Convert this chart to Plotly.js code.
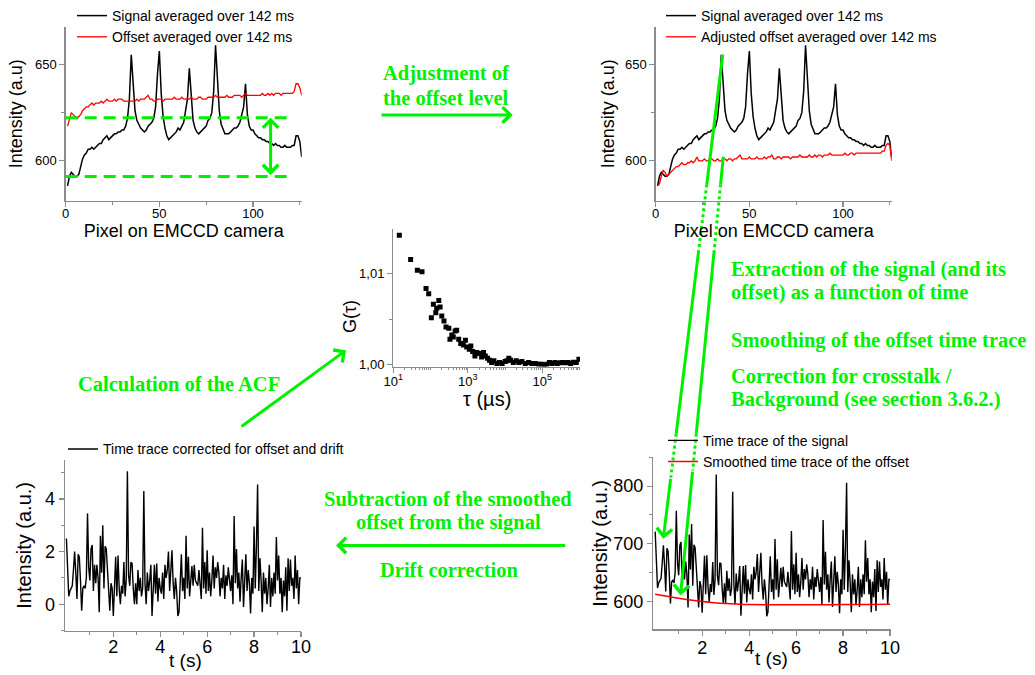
<!DOCTYPE html>
<html><head><meta charset="utf-8">
<script src="https://cdn.plot.ly/plotly-3.0.1.min.js"></script>
<style>html,body{margin:0;padding:0;background:#fff}#chart{width:1035px;height:675px}</style>
</head><body><div id="chart"></div>
<script>
// ---------- DATA ----------
// Spectrum along the EMCCD pixels (averaged over 142 ms)
const signal = [587,592,594,593,592,592,593,597,601,603,
604,606,606,607,606,607,608,609,609,611,
612,613,611,612,613,614,614,615,615,616,
616,618,622,632,655,640,626,621,619,617,
616,615,616,618,619,620,622,628,645,657,
635,623,617,613,611,612,613,614,615,617,
616,618,620,626,632,648,632,621,617,615,
614,615,616,617,618,621,622,625,636,660,
643,626,619,616,614,614,614,615,616,617,
617,618,620,624,628,640,624,618,616,616,
614,613,612,612,611,611,610,610,609,609,
608,609,608,608,607,607,608,607,607,607,
608,608,613,613,610,602];
const offset = [618,622,625,624,623,622,623,624,626,627,
628,628,629,630,629,630,630,630,631,630,
631,632,631,631,631,632,631,632,632,632,
631,631,631,631,631,631,631,632,631,632,
632,632,633,634,632,632,631,631,632,632,
632,631,632,632,632,632,632,633,632,632,
632,633,632,632,632,632,633,632,632,632,
633,633,632,632,632,633,633,633,633,634,
633,633,633,633,633,634,633,633,633,634,
634,634,634,633,634,635,634,634,634,634,
634,634,634,634,635,634,634,635,634,635,
634,635,635,635,634,635,635,635,635,635,
635,636,640,640,638,634];
const adjustedOffset = [587,588,592,595,594,592,593,594,595,596,
597,597,598,599,598,598,599,599,600,599,
600,602,600,600,600,601,600,600,601,601,
600,600,601,600,600,601,601,600,601,601,
600,601,601,602,603,601,601,601,601,602,
601,601,601,602,601,601,601,602,601,602,
602,603,601,601,602,602,601,602,602,602,
602,601,602,602,602,602,603,602,602,602,
602,603,602,602,603,602,603,603,602,603,
603,603,604,603,603,603,603,603,603,603,
604,603,603,604,604,603,604,604,604,604,
604,604,604,604,604,604,604,604,604,604,
605,605,608,609,608,600];
const pixel = signal.map((_, i) => i + 1);
const offsetLevels = [622.4, 591.9];

// Autocorrelation function
const tau = [14.5,29.2,44.2,58.9,75.5,89.1,105,119,138,146,166,180,200,229,260,309,331,372,407,457,501,569,646,759,861,933,1096,1202,1349,1549,1738,2042,2344,2630,2951,3388,3802,4365,5012,6026,7079,8318,10000,11220,12589,14125,16596,19953,23442,28184,34674,42658,52481,64565,79433,95499,112202,131826,154882,181970,218776,251189,301995,354813,416869,489779,575440,691831,812831,954993];
const acf = [1.01418,1.01153,1.01036,1.01018,1.00836,1.00778,1.00516,1.00662,1.00571,1.00618,1.00705,1.00633,1.00535,1.0048,1.00415,1.004,1.0028,1.00327,1.00305,1.00371,1.00378,1.0028,1.00233,1.00218,1.00269,1.00196,1.00171,1.00207,1.00145,1.00098,1.00135,1.00124,1.00087,1.00135,1.00098,1.00073,1.00051,1.00025,1.00044,1.00015,1.00025,1.00015,1.00036,1.00044,1.00073,1.00051,1.00025,1.00044,1.00025,1.00036,1.00015,1.00025,1.00015,1.00015,1.00007,1.00007,1.0,1.00007,1.00025,1.00015,1.00025,1.00015,1.00022,1.00025,1.00022,1.00025,1.00015,1.00029,1.00025,1.00062];
const tauTicks = [10, 1000, 100000];
const tauTickText = ['10<sup>1</sup>', '10<sup>3</sup>', '10<sup>5</sup>'];

// Time traces (sampled every 0.05 s)
const signalTrace = [721,651,623,632,636,640,666,697,662,617,
692,687,647,596,633,637,632,650,757,667,
645,697,703,626,670,638,669,647,589,716,
655,734,627,698,693,654,622,589,635,626,
580,622,679,612,680,625,599,630,616,668,
611,638,820,645,628,667,665,623,597,631,
596,653,618,640,609,622,790,630,595,648,
617,635,661,575,626,661,613,663,598,638,
620,612,647,603,660,638,651,682,616,664,
684,629,603,638,616,574,581,629,678,616,
638,603,708,620,673,607,638,658,625,660,
634,629,625,651,616,603,722,620,664,612,
684,616,647,607,634,675,620,656,638,664,
647,607,638,620,660,603,642,625,656,629,
616,642,594,741,629,686,620,647,598,638,
669,590,634,678,616,651,629,579,638,612,
724,620,691,806,616,671,634,581,647,612,
638,594,620,660,590,638,607,647,612,706,
634,675,612,638,581,634,607,656,583,671,
616,669,625,638,603,675,620,651,594,638,
638];
const correctedTrace = [2.5,0.9,0.3,0.5,0.6,0.7,1.3,2.0,1.2,0.2,
1.9,1.8,0.9,-0.25,0.6,0.7,0.6,1.0,3.45,1.4,
0.9,2.1,2.25,0.5,1.5,0.8,1.5,1.0,-0.3,2.6,
1.2,3.0,0.6,2.2,2.1,1.2,0.5,-0.25,0.8,0.6,
-0.45,0.5,1.8,0.3,1.85,0.6,0.0,0.7,0.4,1.6,
0.3,0.9,5.05,1.1,0.7,1.6,1.55,0.6,0.0,0.8,
0.0,1.3,0.5,1.0,0.3,0.6,4.3,0.8,0.0,1.2,
0.5,0.9,1.5,-0.45,0.7,1.5,0.4,1.55,0.1,1.0,
0.6,0.4,1.2,0.2,1.5,1.0,1.3,2.0,0.5,1.6,
2.05,0.8,0.2,1.0,0.5,-0.45,-0.3,0.8,1.9,0.5,
1.0,0.2,2.6,0.6,1.8,0.3,1.0,1.45,0.7,1.5,
0.9,0.8,0.7,1.3,0.5,0.2,2.9,0.6,1.6,0.4,
2.05,0.5,1.2,0.3,0.9,1.85,0.6,1.4,1.0,1.6,
1.2,0.3,1.0,0.6,1.5,0.2,1.1,0.7,1.4,0.8,
0.5,1.1,0.0,3.35,0.8,2.1,0.6,1.2,0.1,1.0,
1.7,-0.1,0.9,1.9,0.5,1.3,0.8,-0.35,1.0,0.4,
2.95,0.6,2.2,4.55,0.5,1.75,0.9,-0.3,1.2,0.4,
1.0,0.0,0.6,1.5,-0.1,1.0,0.3,1.2,0.4,2.55,
0.9,1.85,0.4,1.0,-0.3,0.9,0.3,1.4,-0.25,1.75,
0.5,1.7,0.7,1.0,0.2,1.85,0.6,1.3,0.0,1.0,
1.0];
const time = signalTrace.map((_, i) => +(i * 0.05).toFixed(2));
const offsetTime = [0,0.5,1,1.5,2,2.5,3,3.5,4,5,6,7,8,9,10];
const smoothedOffset = [612,608.5,605,602,599.5,597.5,596,595,594.3,594,594,594,594.2,594.5,594.8];
const timeTicks = [2,4,6,8,10];
const timeMinor = [1,3,5,7,9];

// ---------- LAYOUT HELPERS ----------
const W = 1035, H = 675;
const px = x => x / W, py = y => 1 - y / H;
const GREEN = '#00f000';
const SANS = 'Liberation Sans, Arial, sans-serif';
const SERIF = 'Liberation Serif, Times New Roman, serif';
const AX = '#8c8c8c';
const base = {showgrid:false, zeroline:false, showline:true, linecolor:AX, linewidth:1.3,
  ticks:'outside', ticklen:5, tickwidth:1.2, tickcolor:AX, tickfont:{size:13, color:'#000'}, automargin:false, fixedrange:true};
const minor = (o) => Object.assign({ticks:'outside', ticklen:3, tickwidth:1, tickcolor:AX, showgrid:false}, o);

const traces = [
  {x:pixel, y:signal, type:'scatter', mode:'lines', line:{color:'#000', width:1.5}, name:'Signal averaged over 142 ms', xaxis:'x', yaxis:'y', legend:'legend'},
  {x:pixel, y:offset, type:'scatter', mode:'lines', line:{color:'#ff0000', width:1.3}, name:'Offset averaged over 142 ms', xaxis:'x', yaxis:'y', legend:'legend'},
  {x:pixel, y:signal, type:'scatter', mode:'lines', line:{color:'#000', width:1.5}, name:'Signal averaged over 142 ms', xaxis:'x2', yaxis:'y2', legend:'legend2'},
  {x:pixel, y:adjustedOffset, type:'scatter', mode:'lines', line:{color:'#ff0000', width:1.3}, name:'Adjusted offset averaged over 142 ms', xaxis:'x2', yaxis:'y2', legend:'legend2'},
  {x:tau, y:acf, type:'scatter', mode:'markers', marker:{symbol:'square', size:5, color:'#000'}, showlegend:false, xaxis:'x3', yaxis:'y3'},
  {x:time, y:signalTrace, type:'scatter', mode:'lines', line:{color:'#000', width:1.4}, name:'Time trace of the signal', xaxis:'x4', yaxis:'y4', legend:'legend3'},
  {x:offsetTime, y:smoothedOffset, type:'scatter', mode:'lines', line:{color:'#ff0000', width:1.5, shape:'spline'}, name:'Smoothed time trace of the offset', xaxis:'x4', yaxis:'y4', legend:'legend3'},
  {x:time, y:correctedTrace, type:'scatter', mode:'lines', line:{color:'#000', width:1.4}, name:'Time trace corrected for offset and drift', xaxis:'x5', yaxis:'y5', legend:'legend4'}
];

const legendBase = {xanchor:'left', yanchor:'top', bgcolor:'rgba(0,0,0,0)', borderwidth:0, font:{size:14, color:'#000'}};

const gfont = {family:SERIF, size:20.5, color:GREEN};
const gtxt = (text, x, y, anchor) => ({text:'<b>'+text+'</b>', xref:'paper', yref:'paper', x:px(x), y:py(y),
  xanchor:anchor || 'center', yanchor:'middle', showarrow:false, font:gfont});
const axTitle = (text, x, y, size, angle) => ({text:text, xref:'paper', yref:'paper', x:px(x), y:py(y),
  xanchor:'center', yanchor:'middle', showarrow:false, textangle:angle || 0, font:{family:SANS, size:size, color:'#000'}});
const garrow = (hx, hy, tx, ty, extra) => Object.assign({text:'', xref:'paper', yref:'paper', x:px(hx), y:py(hy),
  axref:'pixel', ayref:'pixel', ax:tx-hx, ay:ty-hy, showarrow:true, arrowhead:4, arrowsize:1, arrowwidth:3, arrowcolor:GREEN, standoff:0, startstandoff:0}, extra || {});
const seg = (x0, y0, x1, y1, dash) => ({type:'line', xref:'paper', yref:'paper', x0:px(x0), y0:py(y0), x1:px(x1), y1:py(y1),
  line:{color:GREEN, width:3, dash:dash || 'solid'}});

const layout = {
  width:W, height:H, margin:{l:0, r:0, t:0, b:0}, paper_bgcolor:'#fff', plot_bgcolor:'rgba(0,0,0,0)',
  font:{family:SANS, color:'#000'}, separators:',.', showlegend:true,
  xaxis:Object.assign({}, base, {domain:[px(65.7), px(301.7)], range:[0,126], anchor:'y', tick0:0, dtick:50, minor:minor({dtick:25}), ticklabelstandoff:-5,
    title:{text:'Pixel on EMCCD camera', font:{size:18}, standoff:0}}),
  yaxis:Object.assign({}, base, {domain:[py(199.3), py(25)], range:[579.3,669.5], anchor:'x', tick0:0, dtick:50, minor:minor({dtick:25}),
    title:{text:'Intensity (a.u)', font:{size:18}, standoff:7}}),
  xaxis2:Object.assign({}, base, {domain:[px(655.7), px(891.7)], range:[0,126], anchor:'y2', tick0:0, dtick:50, minor:minor({dtick:25}), ticklabelstandoff:-5,
    title:{text:'Pixel on EMCCD camera', font:{size:18}, standoff:0}}),
  yaxis2:Object.assign({}, base, {domain:[py(199.3), py(25)], range:[579.3,669.5], anchor:'x2', tick0:0, dtick:50, minor:minor({dtick:25}),
    title:{text:'Intensity (a.u)', font:{size:18}, standoff:5}}),
  xaxis3:Object.assign({}, base, {type:'log', domain:[px(393.3), px(580)], range:[1,6.01], anchor:'y3', tickmode:'array', tickvals:tauTicks, ticktext:tauTickText, ticklabelstandoff:-3,
    minor:minor({dtick:'D1', ticklen:2})}),
  yaxis3:Object.assign({}, base, {domain:[py(365.7), py(227.3)], range:[0.99981,1.0149], anchor:'x3', tickmode:'array', tickvals:[1.00,1.01], tickformat:'.2f',
    minor:minor({tickmode:'array', tickvals:[1.005]})}),
  xaxis4:Object.assign({}, base, {domain:[px(653.3), px(891)], range:[-0.08,10.04], anchor:'y4', tickmode:'array', tickvals:timeTicks, tickfont:{size:18, color:'#000'}, ticklabelstandoff:-3,
    minor:minor({tickmode:'array', tickvals:timeMinor})}),
  yaxis4:Object.assign({}, base, {domain:[py(629.3), py(456.7)], range:[551,850], anchor:'x4', tick0:0, dtick:100, tickfont:{size:18, color:'#000'},
    minor:minor({dtick:50}), title:{text:'Intensity (a.u.)', font:{size:20}, standoff:0}}),
  xaxis5:Object.assign({}, base, {domain:[px(65), px(301)], range:[-0.06,10.0], anchor:'y5', tickmode:'array', tickvals:timeTicks, tickfont:{size:18, color:'#000'}, ticklabelstandoff:-6,
    minor:minor({tickmode:'array', tickvals:timeMinor})}),
  yaxis5:Object.assign({}, base, {domain:[py(630.7), py(459.3)], range:[-1.01,5.48], anchor:'x5', tick0:0, dtick:2, tickfont:{size:18, color:'#000'},
    minor:minor({dtick:1}), title:{text:'Intensity (a.u.)', font:{size:20}, standoff:8}}),
  legend:Object.assign({}, legendBase, {x:px(72), y:py(-2.3)}),
  legend2:Object.assign({}, legendBase, {x:px(661), y:py(-2.3)}),
  legend3:Object.assign({}, legendBase, {x:px(663), y:py(424)}),
  legend4:Object.assign({}, legendBase, {x:px(63), y:py(432.7)}),
  shapes:[
    {type:'line', xref:'x', yref:'y', x0:0, x1:121, y0:offsetLevels[0], y1:offsetLevels[0], line:{color:GREEN, width:3, dash:'12px,7px'}},
    {type:'line', xref:'x', yref:'y', x0:0, x1:121, y0:offsetLevels[1], y1:offsetLevels[1], line:{color:GREEN, width:3, dash:'12px,7px'}},
    seg(722.7,52.7,706.8,183), seg(706.8,183,698.7,249,'dot'), seg(698.7,249,676.2,433), seg(676.2,433,670.8,477,'dot'),
    seg(723.3,155,720.6,183), seg(720.6,183,714.2,249,'dot'), seg(714.2,249,696.3,433), seg(696.3,433,692.7,470,'dot')
  ],
  annotations:[
    axTitle('τ (µs)', 486.7, 398, 20),
    axTitle('G(τ)', 350, 316, 18, -90),
    axTitle('t (s)', 771.7, 658, 19),
    axTitle('t (s)', 185.5, 660, 19),
    {text:'', xref:'x', yref:'y', axref:'x', ayref:'y', x:109.4, y:offsetLevels[0], ax:109.4, ay:offsetLevels[1], showarrow:true,
      arrowhead:4, startarrowhead:4, arrowside:'end+start', arrowsize:1, startarrowsize:1, arrowwidth:3, arrowcolor:GREEN, standoff:0, startstandoff:0},
    gtxt('Adjustment of', 446.5, 71.7), gtxt('the offset level', 446, 96.7),
    garrow(512.7, 113.3, 380, 113.3),
    gtxt('Extraction of the signal (and its', 729, 268.3, 'left'),
    gtxt('offset) as a function of time', 729, 291.7, 'left'),
    gtxt('Smoothing of the offset time trace', 729, 339.3, 'left'),
    gtxt('Correction for crosstalk /', 729, 375, 'left'),
    gtxt('Background (see section 3.6.2.)', 729, 398.3, 'left'),
    gtxt('Calculation of the ACF', 179, 383.3),
    garrow(346, 349.3, 240, 426.7),
    gtxt('Subtraction of the smoothed', 448, 498.3), gtxt('offset from the signal', 448.3, 521.7),
    garrow(336, 545, 566.7, 545),
    gtxt('Drift correction', 449, 570),
    garrow(663.3, 538.3, 670.8, 477),
    garrow(680.5, 595, 692.7, 470)
  ]
};

Plotly.newPlot('chart', traces, layout, {displayModeBar:false, staticPlot:true});
</script>
</body></html>
